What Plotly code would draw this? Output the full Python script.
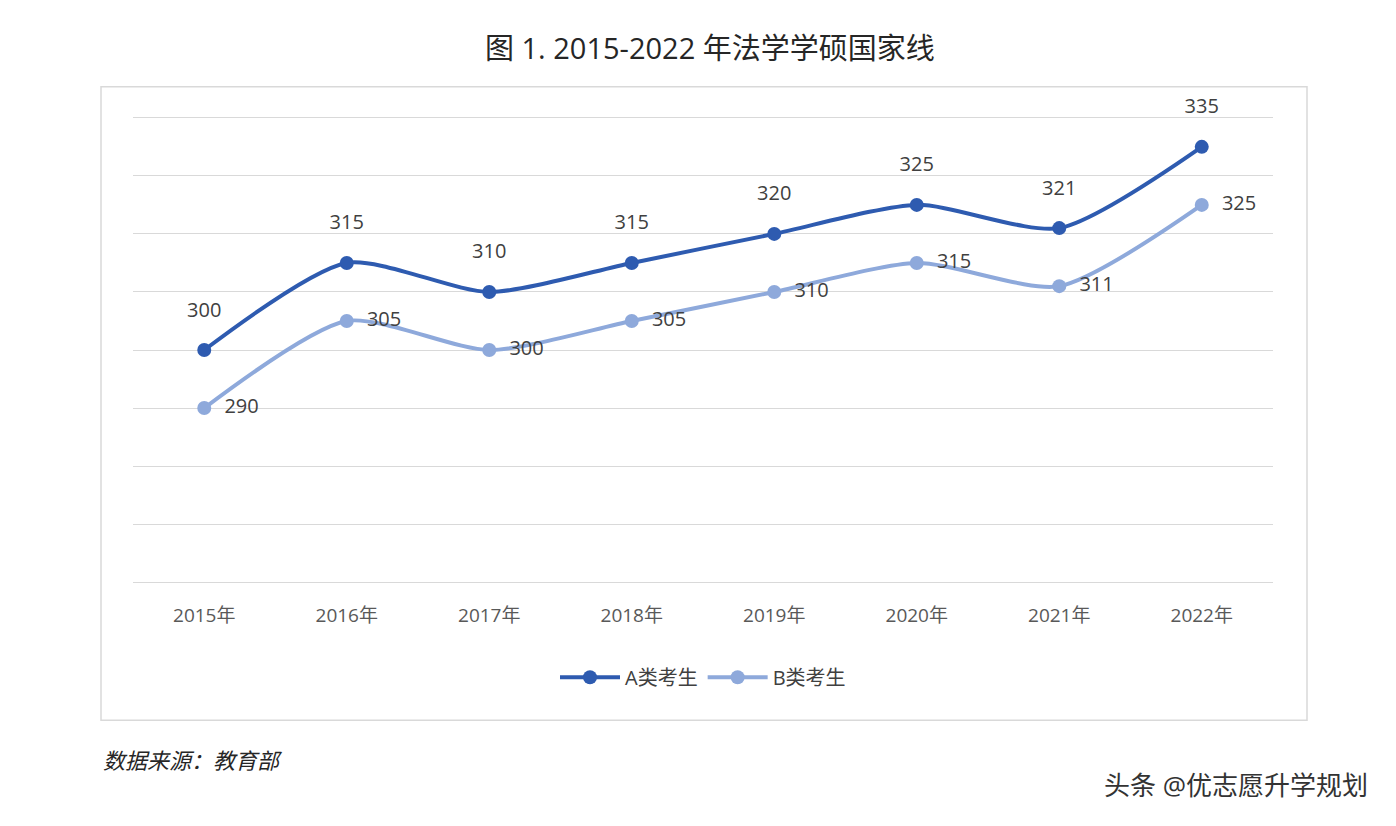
import plotly.graph_objects as go

years = ["2015年","2016年","2017年","2018年","2019年","2020年","2021年","2022年"]
a_vals = [300, 315, 310, 315, 320, 325, 321, 335]
b_vals = [290, 305, 300, 305, 310, 315, 311, 325]

OFF = 8
W, H = 1396, 826
YMIN, YMAX = 259, 341
unit = 5.8
ph = (YMAX - YMIN) * unit
pw = 1140
L = 133 - OFF
T = 118 - OFF - (YMAX - 340) * unit
R, B = W - L - pw, H - T - ph
def px(x): return (x - OFF - L) / pw
def py(y): return (T + ph - (y - OFF)) / ph

font = "Open Sans, Noto Sans CJK SC"
fig = go.Figure()
fig.add_trace(go.Scatter(x=years, y=a_vals, name="A类考生", mode="lines+markers",
    line=dict(color="#2E5BB0", width=4, shape="spline", smoothing=0.7),
    marker=dict(size=14, color="#2E5BB0"), cliponaxis=False))
fig.add_trace(go.Scatter(x=years, y=b_vals, name="B类考生", mode="lines+markers+text",
    line=dict(color="#8EA9DB", width=4, shape="spline", smoothing=0.7),
    marker=dict(size=14, color="#8EA9DB"), cliponaxis=False,
    text=["  " + str(v) for v in b_vals], textposition="middle right",
    textfont=dict(size=20, color="#404040")))
fig.add_trace(go.Scatter(x=years, y=a_vals, mode="markers+text", showlegend=False,
    marker=dict(size=44, opacity=0), cliponaxis=False, hoverinfo="skip",
    text=[str(v) for v in a_vals], textposition="top center",
    textfont=dict(size=20, color="#404040")))

fig.update_layout(
    width=W, height=H, margin=dict(l=L, r=R, t=T, b=B),
    paper_bgcolor="white", plot_bgcolor="white",
    font=dict(family=font, color="#595959"),
    showlegend=True,
    legend=dict(orientation="h", x=0.5, xanchor="center", y=py(677), yanchor="middle",
                font=dict(size=20, color="#404040"), itemwidth=60),
    xaxis=dict(showgrid=False, showline=False, ticks="", tickfont=dict(size=19, color="#595959"),
               range=[-0.5, 7.5], ticklabelstandoff=14),
    yaxis=dict(range=[YMIN, YMAX], tickvals=[260,270,280,290,300,310,320,330,340],
               showticklabels=False, gridcolor="#D9D9D9",
               gridwidth=1, zeroline=False, showline=False),
    shapes=[dict(type="rect", xref="paper", yref="paper", x0=px(101), x1=px(1307),
                 y0=py(720), y1=py(87), line=dict(color="#D9D9D9", width=1.5))],
    annotations=[
        dict(text="图 1. 2015-2022 年法学学硕国家线", xref="paper", yref="paper", x=px(710), y=py(48),
             showarrow=False, font=dict(size=29, color="#262626"), xanchor="center", yanchor="middle"),
        dict(text="<i>数据来源：教育部</i>", xref="paper", yref="paper", x=px(101), y=py(760),
             showarrow=False, font=dict(size=22, color="#262626"), xanchor="left", yanchor="middle"),
        dict(text="头条 @优志愿升学规划", xref="paper", yref="paper", x=px(1370), y=py(785),
             showarrow=False, font=dict(size=26, color="#333333"), xanchor="right", yanchor="middle"),
    ],
)
fig.write_html("out.html")
